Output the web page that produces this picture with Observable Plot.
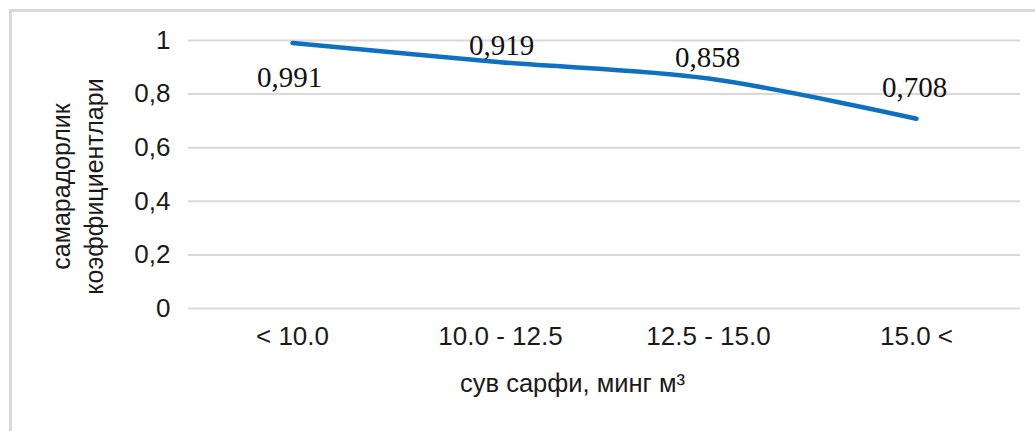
<!DOCTYPE html>
<html>
<head>
<meta charset="utf-8">
<script src="https://cdn.jsdelivr.net/npm/d3@7"></script>
<script src="https://cdn.jsdelivr.net/npm/@observablehq/plot@0.6"></script>
<style>
  html, body { margin: 0; padding: 0; background: #fff; }
  #wrap { position: relative; width: 1035px; height: 431px; overflow: hidden; }
  #border { position: absolute; left: 9px; top: 9px; width: 1100px; height: 500px;
            border-top: 3px solid #d9d9d9; border-left: 3px solid #d9d9d9; pointer-events: none; }
  #chart { position: absolute; left: 0; top: 0; }
</style>
</head>
<body>
<div id="wrap"><div id="chart"></div><div id="border"></div></div>
<script>
const categories = ["< 10.0", "10.0 - 12.5", "12.5 - 15.0", "15.0 <"];
const values = [0.991, 0.919, 0.858, 0.708];
const valueLabels = ["0,991", "0,919", "0,858", "0,708"];
const yTicks = [0, 0.2, 0.4, 0.6, 0.8, 1];
const xTitle = "сув сарфи, минг м³";
const yTitle = "самарадорлик\nкоэффициентлари";

const data = categories.map((c, i) => ({cat: c, v: values[i], label: valueLabels[i]}));
const labelOffsets = [[-3, 35], [1, -16], [-1, -21], [-2, -31]];

const sans = "Arial, 'Liberation Sans', sans-serif";
const serif = "'Times New Roman', 'Liberation Serif', serif";

const plot = Plot.plot({
  width: 1035,
  height: 431,
  marginLeft: 188,
  marginRight: 15,
  marginTop: 40,
  marginBottom: 123,
  style: {fontFamily: sans, background: "transparent", overflow: "visible"},
  x: {type: "point", domain: categories, padding: 0.5, label: null},
  y: {domain: [0, 1], label: null},
  marks: [
    Plot.ruleY(yTicks, {stroke: "#d9d9d9", strokeWidth: 2}),
    Plot.axisY({ticks: yTicks, tickSize: 0, tickPadding: 18, fontSize: 26, fill: "#1a1a1a",
      tickFormat: d => String(d).replace(".", ","), label: null}),
    Plot.axisX({tickSize: 0, tickPadding: 18, fontSize: 26, fill: "#1a1a1a", label: null}),
    Plot.line(data, {x: "cat", y: "v", stroke: "#0f6fc0", strokeWidth: 4.5, curve: "catmull-rom",
      strokeLinecap: "round", strokeLinejoin: "round"}),
    ...labelOffsets.map(([dx, dy], i) =>
      Plot.text(data, {filter: (d, j) => j === i, x: "cat", y: "v", text: "label", dx, dy,
        fontSize: 29, fontFamily: serif, fill: "#111", lineAnchor: "middle", textAnchor: "middle"})),
    Plot.text([xTitle], {frameAnchor: "bottom", text: d => d, dx: -32, dy: 75, fontSize: 25.5, fill: "#1a1a1a",
      lineAnchor: "middle", textAnchor: "middle"}),
    Plot.text([yTitle], {frameAnchor: "left", text: d => d, rotate: -90, dx: -113, dy: 12, fontSize: 25,
      lineHeight: 1.32, fill: "#1a1a1a", lineAnchor: "middle", textAnchor: "middle"})
  ]
});
document.getElementById("chart").appendChild(plot);
</script>
</body>
</html>
